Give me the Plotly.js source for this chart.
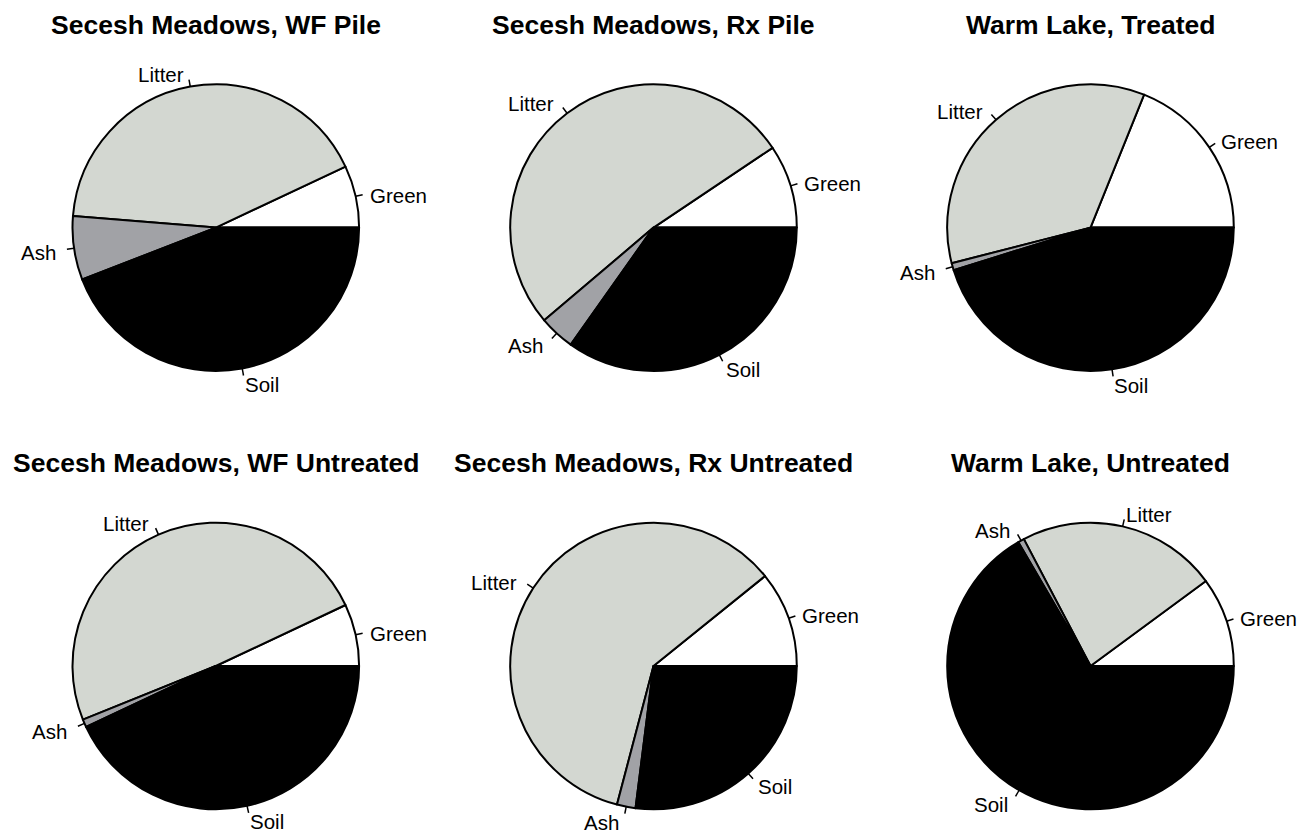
<!DOCTYPE html>
<html>
<head>
<meta charset="utf-8">
<script src="https://cdn.plot.ly/plotly-3.0.1.min.js"></script>
<style>html,body{margin:0;padding:0;background:#fff;}#chart{width:1310px;height:835px;}</style>
</head>
<body>
<div id="chart"></div>
<script>
// ---- data (percent of cover) ----
const categories = ["Green", "Litter", "Ash", "Soil"];
const panelTitles = [
  "Secesh Meadows, WF Pile", "Secesh Meadows, Rx Pile", "Warm Lake, Treated",
  "Secesh Meadows, WF Untreated", "Secesh Meadows, Rx Untreated", "Warm Lake, Untreated"
];
const wfPile        = [7.0, 41.7, 7.2, 44.1];
const rxPile        = [9.4, 51.8, 4.0, 34.8];
const wlTreated     = [18.9, 35.1, 0.8, 45.2];
const wfUntreated   = [7.0, 49.1, 0.9, 43.0];
const rxUntreated   = [10.8, 60.1, 2.1, 27.0];
const wlUntreated   = [10.1, 22.6, 0.7, 66.6];
const panelValues = [wfPile, rxPile, wlTreated, wfUntreated, rxUntreated, wlUntreated];

// ---- layout / style ----
const W = 1310, H = 835;
const colors = ["#FFFFFF", "#D3D7D1", "#A1A2A6", "#000000"];
const R = 143.3;
const colCenters = [215.8, 653.5, 1090.5];
const rowCenters = [227.6, 666.0];
const titleOffset = 203; // px above pie center
const FONT = "Liberation Sans, Arial, Helvetica, sans-serif";

const px = x => x / W;
const py = y => 1 - y / H;

const traces = [], annotations = [], shapes = [];
panelValues.forEach((vals, i) => {
  const cx = colCenters[i % 3], cy = rowCenters[Math.floor(i / 3)];
  const total = vals.reduce((a, b) => a + b, 0);
  // Plotly (counterclockwise) puts the end of the first slice at `rotation`
  // (degrees clockwise from 12 o'clock); make the first slice start at 3 o'clock.
  const rot = 90 - 360 * vals[0] / total;
  traces.push({
    type: "pie",
    labels: categories,
    values: vals,
    sort: false,
    direction: "counterclockwise",
    rotation: rot,
    textinfo: "none",
    hoverinfo: "label+value",
    showlegend: false,
    marker: {colors: colors, line: {color: "#000000", width: 2}},
    domain: {x: [px(cx - R), px(cx + R)], y: [py(cy + R), py(cy - R)]}
  });
  // labels with tick marks, angles from the data
  let cum = 0;
  vals.forEach((v, k) => {
    const mid = (cum + v / 2) / total * 2 * Math.PI;
    cum += v;
    const c = Math.cos(mid), s = Math.sin(mid);
    shapes.push({
      type: "line", xref: "paper", yref: "paper",
      x0: px(cx + R * c), y0: py(cy - R * s),
      x1: px(cx + 1.05 * R * c), y1: py(cy - 1.05 * R * s),
      line: {color: "#000000", width: 1.5}
    });
    annotations.push({
      xref: "paper", yref: "paper", showarrow: false,
      x: px(cx + 1.1 * R * c), y: py(cy - 1.1 * R * s),
      xanchor: c < 0 ? "right" : "left", yanchor: "middle",
      xshift: -2, yshift: -2,
      text: categories[k],
      font: {family: FONT, size: 20.5, color: "#000000"}
    });
  });
  annotations.push({
    xref: "paper", yref: "paper", showarrow: false,
    x: px(cx), y: py(cy - titleOffset), xanchor: "center", yanchor: "middle",
    text: "<b>" + panelTitles[i] + "</b>",
    font: {family: FONT, size: 26.5, color: "#000000"}
  });
});

Plotly.newPlot("chart", traces, {
  width: W, height: H,
  margin: {l: 0, r: 0, t: 0, b: 0},
  paper_bgcolor: "#FFFFFF",
  plot_bgcolor: "#FFFFFF",
  showlegend: false,
  annotations: annotations,
  shapes: shapes
}, {displayModeBar: false, staticPlot: true});
</script>
</body>
</html>
